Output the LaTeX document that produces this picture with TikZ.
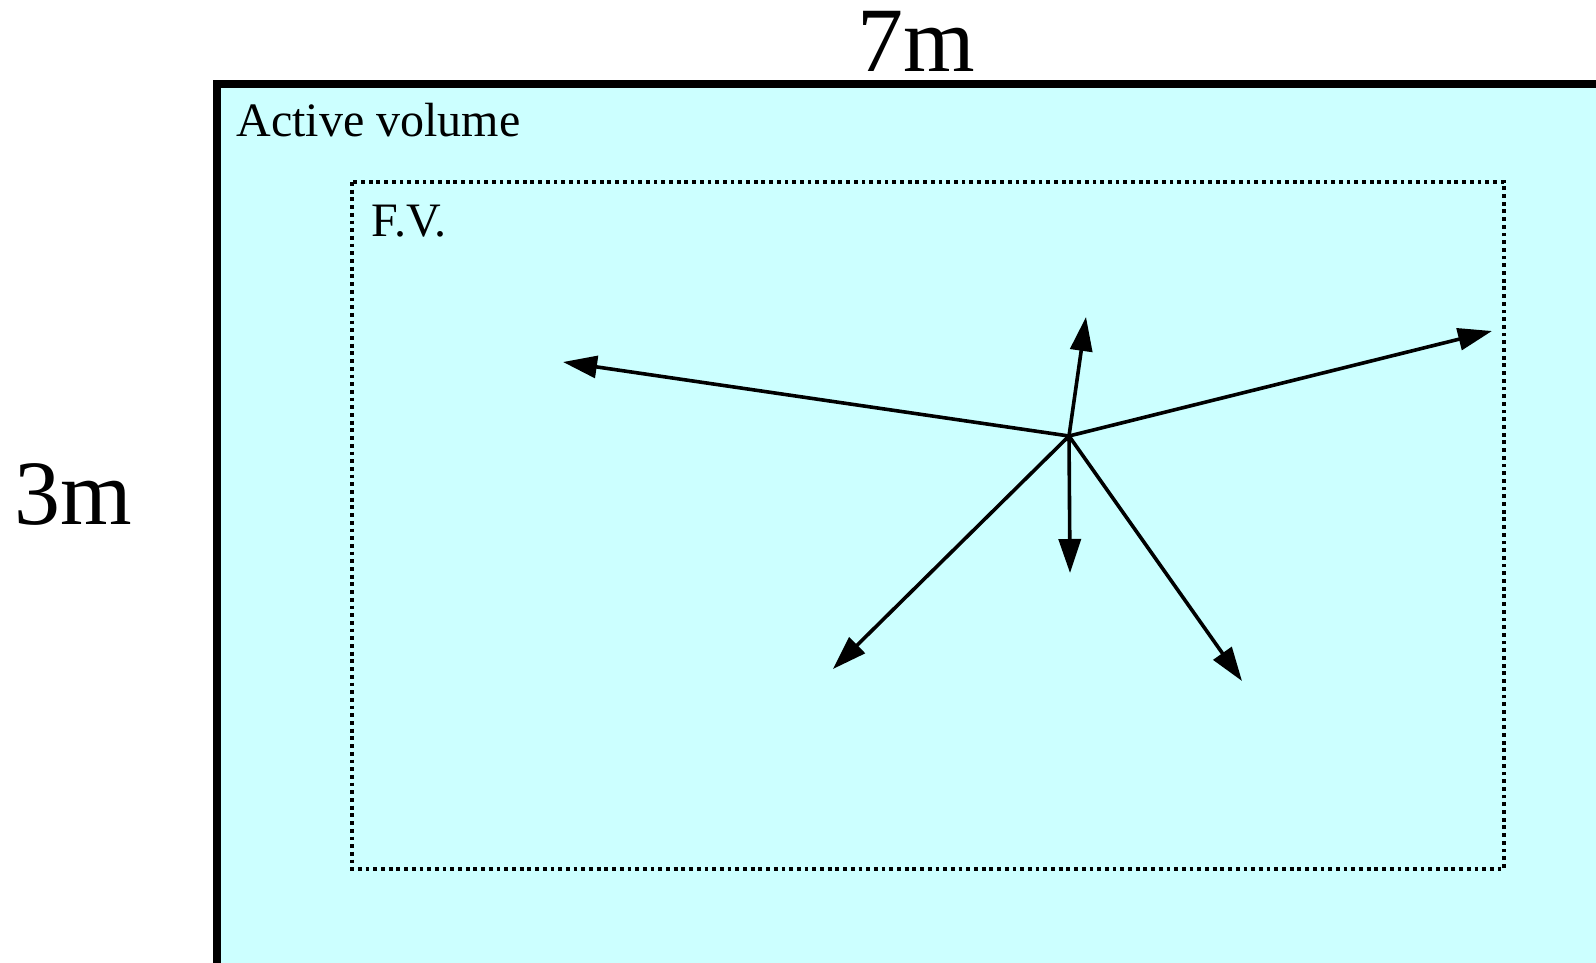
\documentclass[tikz,border=0pt]{standalone}
\usepackage{fontspec}
\setmainfont{Liberation Serif}
\usetikzlibrary{arrows.meta}
\definecolor{volcyan}{HTML}{CCFFFF}
\tikzset{
  ray/.style={line width=1.8pt,-{Triangle[length=17pt,width=11pt]}},
  fvbox/.style={line width=1.9pt,dash pattern=on 1.9pt off 1.95pt},
  avbox/.style={line width=3.8pt,fill=volcyan},
  lbl/.style={inner sep=0pt,anchor=base west}
}
\begin{document}
\begin{tikzpicture}[x=0.5pt,y=-0.5pt]
\useasboundingbox (0,0) rectangle (1596,963);
\clip (0,0) rectangle (1596,963);
\draw[avbox] (217,84) rectangle (1700,1100);
\draw[fvbox] (352,182) rectangle (1504,869);
\node[lbl,font=\fontsize{24pt}{28pt}\selectfont] (av) at (236,137) {Active volume};
\node[lbl,font=\fontsize{24pt}{28pt}\selectfont] (fv) at (371,236) {F.V.};
\node[lbl,font=\fontsize{46pt}{52pt}\selectfont] (w) at (857,72) {7m};
\node[lbl,font=\fontsize{46pt}{52pt}\selectfont] (h) at (14,524) {3m};
\coordinate (c) at (1069,436);
\coordinate (tl) at (563,362);
\coordinate (tu) at (1086,317);
\coordinate (tr) at (1492,331);
\coordinate (td) at (1070,573);
\coordinate (tdl) at (833,669);
\coordinate (tdr) at (1242,681);
\foreach \t in {tl,tu,tr,td,tdl,tdr} \draw[ray] (c) -- (\t);
\end{tikzpicture}
\end{document}
